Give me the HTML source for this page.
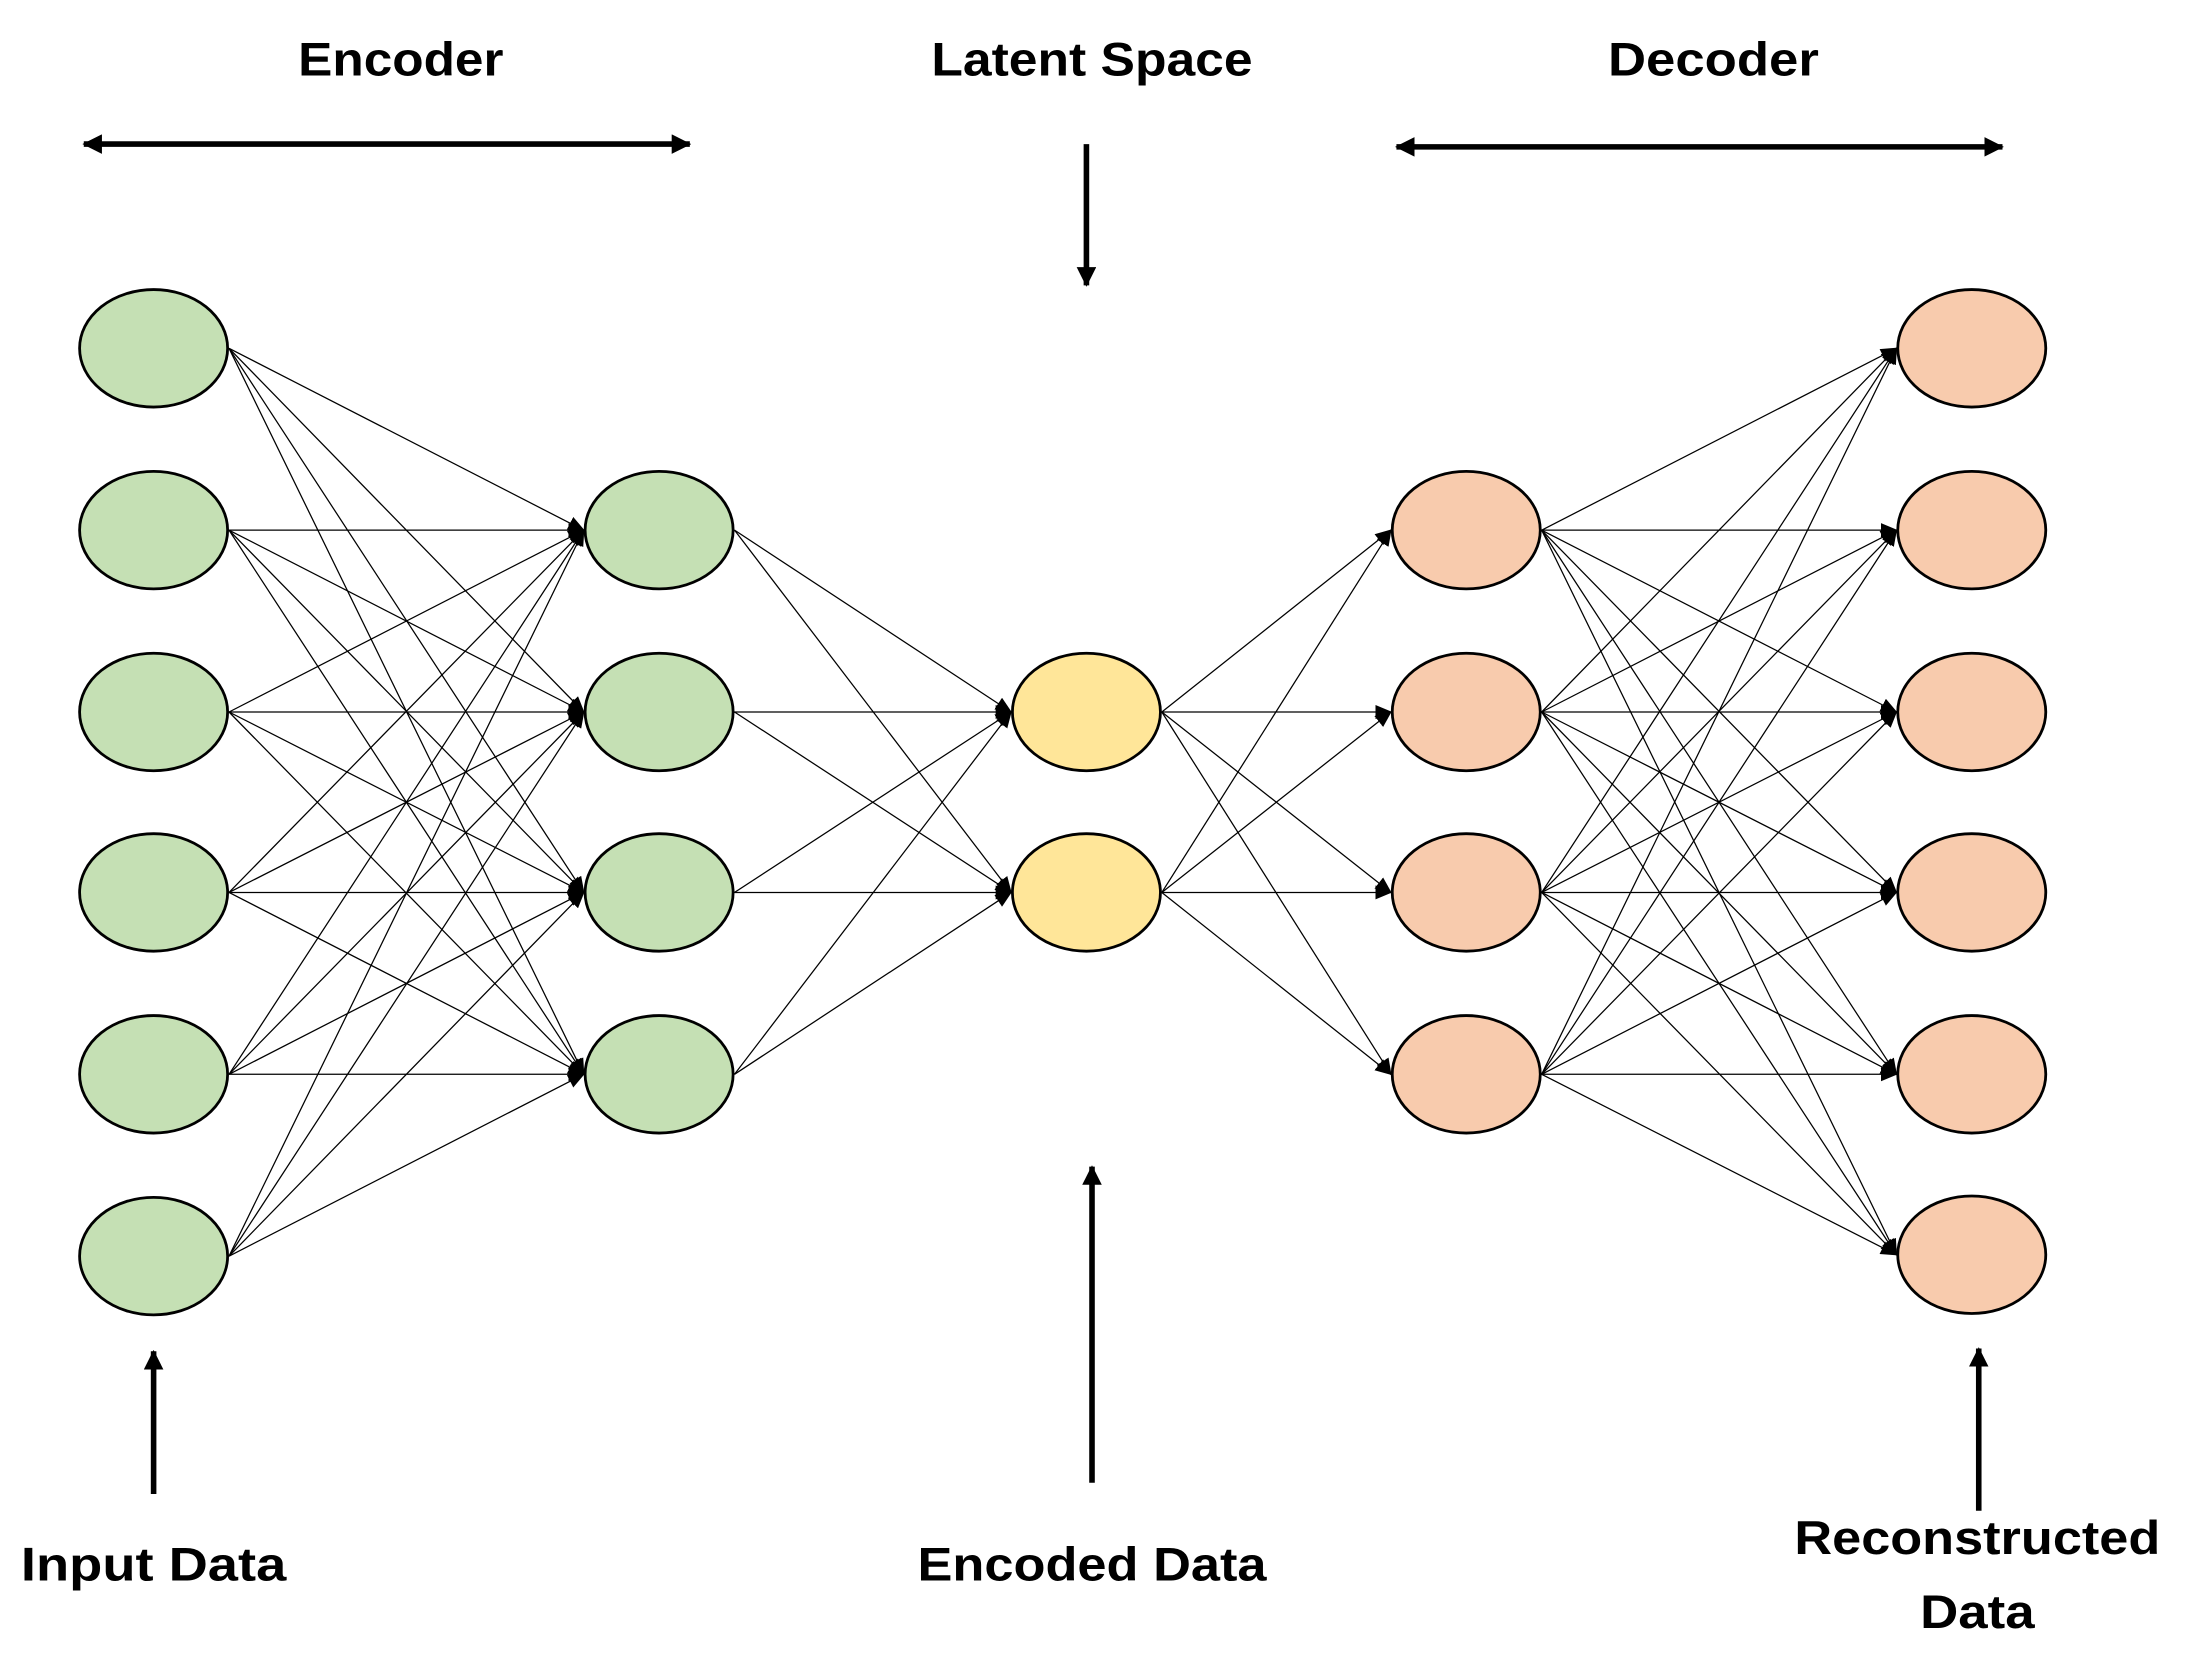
<!DOCTYPE html>
<html><head><meta charset="utf-8"><style>
html,body{margin:0;padding:0;background:#fff;width:2191px;height:1659px;overflow:hidden}
svg{display:block}
text{font-family:"Liberation Sans",sans-serif;font-weight:bold;font-size:34px;fill:#000}
</style></head><body>
<svg id="s" width="2191" height="1659" viewBox="0 0 1569 1186" preserveAspectRatio="none" xmlns="http://www.w3.org/2000/svg">
<defs>
<marker id="a" markerWidth="12" markerHeight="10" refX="11" refY="5" orient="auto" markerUnits="userSpaceOnUse"><path d="M0,0 L12,5 L0,10 Z" fill="#000"/></marker>
<marker id="b" markerWidth="14" markerHeight="14" refX="13" refY="7" orient="auto" markerUnits="userSpaceOnUse"><path d="M0,0 L14,7 L0,14 Z" fill="#000"/></marker>
<marker id="c" markerWidth="14" markerHeight="14" refX="1" refY="7" orient="auto" markerUnits="userSpaceOnUse"><path d="M14,0 L0,7 L14,14 Z" fill="#000"/></marker>
</defs>
<g id="edges" stroke="#000" stroke-width="0.9"></g>
<g id="nodes" stroke="#000" stroke-width="2"></g>
<g stroke="#000" stroke-width="4">
<line x1="60" y1="103" x2="494" y2="103" marker-start="url(#c)" marker-end="url(#b)"/>
<line x1="1000" y1="105" x2="1434" y2="105" marker-start="url(#c)" marker-end="url(#b)"/>
<line x1="778" y1="103" x2="778" y2="204" marker-end="url(#b)"/>
<line x1="110" y1="1068" x2="110" y2="966" marker-end="url(#b)"/>
<line x1="782" y1="1060" x2="782" y2="834" marker-end="url(#b)"/>
<line x1="1417" y1="1080" x2="1417" y2="964" marker-end="url(#b)"/>
</g>
<text x="287" y="54" text-anchor="middle" textLength="147" lengthAdjust="spacingAndGlyphs">Encoder</text>
<text x="782" y="54" text-anchor="middle" textLength="230" lengthAdjust="spacingAndGlyphs">Latent Space</text>
<text x="1227" y="54" text-anchor="middle" textLength="151" lengthAdjust="spacingAndGlyphs">Decoder</text>
<text x="110" y="1130" text-anchor="middle" textLength="190" lengthAdjust="spacingAndGlyphs">Input Data</text>
<text x="782" y="1130" text-anchor="middle" textLength="250" lengthAdjust="spacingAndGlyphs">Encoded Data</text>
<text x="1416" y="1111" text-anchor="middle" textLength="262" lengthAdjust="spacingAndGlyphs">Reconstructed</text>
<text x="1416" y="1164" text-anchor="middle" textLength="82" lengthAdjust="spacingAndGlyphs">Data</text>
</svg>
<script>
var NS="http://www.w3.org/2000/svg";
var L=[
 {x:110,ys:[249,379,509,638,768,898],f:"#c5e0b4"},
 {x:472,ys:[379,509,638,768],f:"#c5e0b4"},
 {x:778,ys:[509,638],f:"#ffe699"},
 {x:1050,ys:[379,509,638,768],f:"#f8cbad"},
 {x:1412,ys:[249,379,509,638,768,897],f:"#f8cbad"}];
var E=document.getElementById("edges"),N=document.getElementById("nodes");
for(var i=0;i<4;i++){var A=L[i],B=L[i+1];
 A.ys.forEach(function(y1){B.ys.forEach(function(y2){
  var l=document.createElementNS(NS,"line");
  l.setAttribute("x1",A.x+54);l.setAttribute("y1",y1);
  l.setAttribute("x2",B.x-54);l.setAttribute("y2",y2);
  l.setAttribute("marker-end","url(#a)");E.appendChild(l);});});}
L.forEach(function(A){A.ys.forEach(function(y){
 var e=document.createElementNS(NS,"ellipse");
 e.setAttribute("cx",A.x);e.setAttribute("cy",y);e.setAttribute("rx",53);e.setAttribute("ry",42);
 e.setAttribute("fill",A.f);N.appendChild(e);});});
</script>
</body></html>
